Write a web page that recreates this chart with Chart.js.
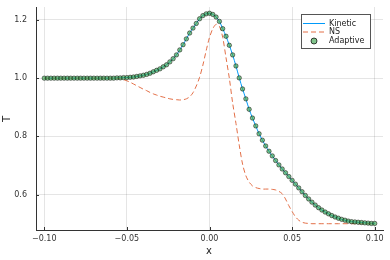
<!DOCTYPE html>
<html>
<head>
<meta charset="utf-8">
<script src="https://cdn.jsdelivr.net/npm/chart.js@4"></script>
<style>
  html, body { margin: 0; padding: 0; background: #fff; }
  #wrap { width: 390px; height: 260px; }
</style>
</head>
<body>
<div id="wrap"><canvas id="mainChart" width="390" height="260"></canvas></div>
<script>
// grid points (x) shared by all three series
const xValues = [
  -0.100, -0.098, -0.096, -0.094, -0.092, -0.090, -0.088, -0.086, -0.084, -0.082,
  -0.080, -0.078, -0.076, -0.074, -0.072, -0.070, -0.068, -0.066, -0.064, -0.062,
  -0.060, -0.058, -0.056, -0.054, -0.052, -0.050, -0.048, -0.046, -0.044, -0.042,
  -0.040, -0.038, -0.036, -0.034, -0.032, -0.030, -0.028, -0.026, -0.024, -0.022,
  -0.020, -0.018, -0.016, -0.014, -0.012, -0.010, -0.008, -0.006, -0.004, -0.002,
   0.000,  0.002,  0.004,  0.006,  0.008,  0.010,  0.012,  0.014,  0.016,  0.018,
   0.020,  0.022,  0.024,  0.026,  0.028,  0.030,  0.032,  0.034,  0.036,  0.038,
   0.040,  0.042,  0.044,  0.046,  0.048,  0.050,  0.052,  0.054,  0.056,  0.058,
   0.060,  0.062,  0.064,  0.066,  0.068,  0.070,  0.072,  0.074,  0.076,  0.078,
   0.080,  0.082,  0.084,  0.086,  0.088,  0.090,  0.092,  0.094,  0.096,  0.098,
   0.100
];

const kineticT = [
  1.000, 1.000, 1.000, 1.000, 1.000, 1.000, 1.000, 1.000, 1.000, 1.000,
  1.000, 1.000, 1.000, 1.000, 1.000, 1.000, 1.000, 1.000, 1.000, 1.000,
  1.000, 1.000, 1.001, 1.001, 1.002, 1.002, 1.003, 1.004, 1.006, 1.008,
  1.010, 1.013, 1.017, 1.022, 1.027, 1.032, 1.039, 1.046, 1.056, 1.067,
  1.080, 1.097, 1.115, 1.135, 1.155, 1.172, 1.188, 1.204, 1.215, 1.221,
  1.223, 1.219, 1.210, 1.195, 1.170, 1.144, 1.113, 1.080, 1.042, 1.001,
  0.963, 0.929, 0.893, 0.863, 0.836, 0.809, 0.787, 0.767, 0.749, 0.733,
  0.717, 0.702, 0.688, 0.675, 0.662, 0.649, 0.636, 0.623, 0.610, 0.597,
  0.585, 0.574, 0.564, 0.555, 0.547, 0.540, 0.534, 0.528, 0.523, 0.519,
  0.515, 0.512, 0.509, 0.507, 0.506, 0.505, 0.504, 0.503, 0.502, 0.501,
  0.501
];

const nsT = [
  1.000, 1.000, 1.000, 1.000, 1.000, 1.000, 1.000, 1.000, 1.000, 1.000,
  1.000, 1.000, 1.000, 1.000, 1.000, 1.000, 1.000, 1.000, 1.000, 1.000,
  1.000, 1.000, 1.000, 0.998, 0.995, 0.991, 0.986, 0.980, 0.974, 0.968,
  0.962, 0.957, 0.951, 0.946, 0.942, 0.938, 0.935, 0.932, 0.929, 0.927,
  0.926, 0.925, 0.926, 0.929, 0.936, 0.950, 0.973, 1.003, 1.045, 1.095,
  1.140, 1.170, 1.185, 1.178, 1.140, 1.070, 1.000, 0.915, 0.845, 0.770,
  0.705, 0.665, 0.643, 0.630, 0.624, 0.621, 0.619, 0.619, 0.619, 0.618,
  0.616, 0.611, 0.603, 0.585, 0.562, 0.542, 0.524, 0.512, 0.505, 0.502,
  0.501, 0.500, 0.500, 0.500, 0.500, 0.500, 0.500, 0.500, 0.500, 0.500,
  0.500, 0.500, 0.500, 0.500, 0.500, 0.500, 0.500, 0.500, 0.500, 0.500,
  0.500
];

const adaptiveT = kineticT.slice();

const xTicks = [-0.10, -0.05, 0.00, 0.05, 0.10];
const yTicks = [0.6, 0.8, 1.0, 1.2];

const FONT = "'DejaVu Sans', sans-serif";

function toPoints(ys) {
  return xValues.map((x, i) => ({ x: x, y: ys[i] }));
}

// ============================
// Inward ticks, axis titles, legend
// ============================
const decorPlugin = {
  id: "decor",
  afterDraw(chart) {
    const { ctx, chartArea, scales } = chart;
    ctx.save();

    // inward tick marks
    ctx.strokeStyle = "#333";
    ctx.lineWidth = 1;
    ctx.beginPath();
    yTicks.forEach(v => {
      const y = Math.round(scales.y.getPixelForValue(v)) + 0.5;
      ctx.moveTo(chartArea.left, y);
      ctx.lineTo(chartArea.left + 3, y);
    });
    xTicks.forEach(v => {
      const x = Math.round(scales.x.getPixelForValue(v)) + 0.5;
      ctx.moveTo(x, chartArea.bottom);
      ctx.lineTo(x, chartArea.bottom - 3);
    });
    ctx.stroke();

    // axis titles
    ctx.fillStyle = "#222";
    ctx.font = "10px " + FONT;
    ctx.textAlign = "center";
    ctx.textBaseline = "middle";
    ctx.fillText("x", 209, 251);
    ctx.save();
    ctx.translate(7, 119);
    ctx.rotate(-Math.PI / 2);
    ctx.fillText("T", 0, 0);
    ctx.restore();

    // legend box
    const bx = 301.5, by = 14.5, bw = 69, bh = 34;
    ctx.fillStyle = "#fff";
    ctx.fillRect(bx, by, bw, bh);
    ctx.strokeStyle = "#555";
    ctx.lineWidth = 1;
    ctx.strokeRect(bx, by, bw, bh);

    const rows = [23.5, 32, 41];
    ctx.lineWidth = 1;
    ctx.strokeStyle = "#009AFA";
    ctx.beginPath();
    ctx.moveTo(303, rows[0]); ctx.lineTo(325, rows[0]);
    ctx.stroke();

    ctx.strokeStyle = "#E36F47";
    ctx.setLineDash([5, 3]);
    ctx.beginPath();
    ctx.moveTo(303, rows[1]); ctx.lineTo(325, rows[1]);
    ctx.stroke();
    ctx.setLineDash([]);

    ctx.fillStyle = "rgba(62,164,78,0.65)";
    ctx.strokeStyle = "rgba(0,0,0,0.7)";
    ctx.beginPath();
    ctx.arc(314, rows[2], 3, 0, Math.PI * 2);
    ctx.fill();
    ctx.stroke();

    ctx.fillStyle = "#222";
    ctx.font = "8px " + FONT;
    ctx.textAlign = "left";
    ctx.fillText("Kinetic", 329, rows[0]);
    ctx.fillText("NS", 329, rows[1]);
    ctx.fillText("Adaptive", 329, rows[2]);

    ctx.restore();
  }
};

const ctx = document.getElementById("mainChart").getContext("2d");

const mainChart = new Chart(ctx, {
  type: "scatter",
  data: {
    datasets: [
      {
        label: "Adaptive",
        data: toPoints(adaptiveT),
        showLine: false,
        pointRadius: 2.2,
        pointBorderWidth: 0.8,
        pointBackgroundColor: "rgba(62,164,78,0.65)",
        pointBorderColor: "rgba(0,0,0,0.6)",
        order: 0
      },
      {
        label: "NS",
        data: toPoints(nsT),
        showLine: true,
        borderColor: "#E36F47",
        borderWidth: 1,
        borderDash: [5, 3],
        pointRadius: 0,
        tension: 0.3,
        order: 1
      },
      {
        label: "Kinetic",
        data: toPoints(kineticT),
        showLine: true,
        borderColor: "#009AFA",
        borderWidth: 1,
        pointRadius: 0,
        tension: 0.3,
        order: 2
      }
    ]
  },
  options: {
    responsive: false,
    animation: false,
    layout: { padding: { top: 7, right: 7, left: 0, bottom: 0 } },
    plugins: {
      legend: { display: false },
      tooltip: { enabled: false }
    },
    scales: {
      x: {
        type: "linear",
        min: -0.105,
        max: 0.105,
        afterBuildTicks(scale) { scale.ticks = xTicks.map(v => ({ value: v })); },
        afterFit(scale) {
          scale.height = 30;
          scale.paddingLeft = 0;
          scale.paddingRight = 0;
        },
        grid: { color: "rgba(0,0,0,0.1)", drawTicks: false },
        border: { color: "#333", width: 1 },
        ticks: {
          padding: 4,
          maxRotation: 0,
          font: { size: 8, family: FONT },
          color: "#333",
          callback: v => (v < 0 ? "\u2212" : "") + Math.abs(v).toFixed(2)
        }
      },
      y: {
        type: "linear",
        min: 0.4784,
        max: 1.2445,
        afterBuildTicks(scale) { scale.ticks = yTicks.map(v => ({ value: v })); },
        afterFit(scale) {
          scale.width = 36;
          scale.paddingTop = 0;
          scale.paddingBottom = 0;
        },
        grid: { color: "rgba(0,0,0,0.1)", drawTicks: false },
        border: { color: "#333", width: 1 },
        ticks: {
          padding: 9,
          font: { size: 8, family: FONT },
          color: "#333",
          callback: v => v.toFixed(1)
        }
      }
    }
  },
  plugins: [decorPlugin]
});
</script>
</body>
</html>
